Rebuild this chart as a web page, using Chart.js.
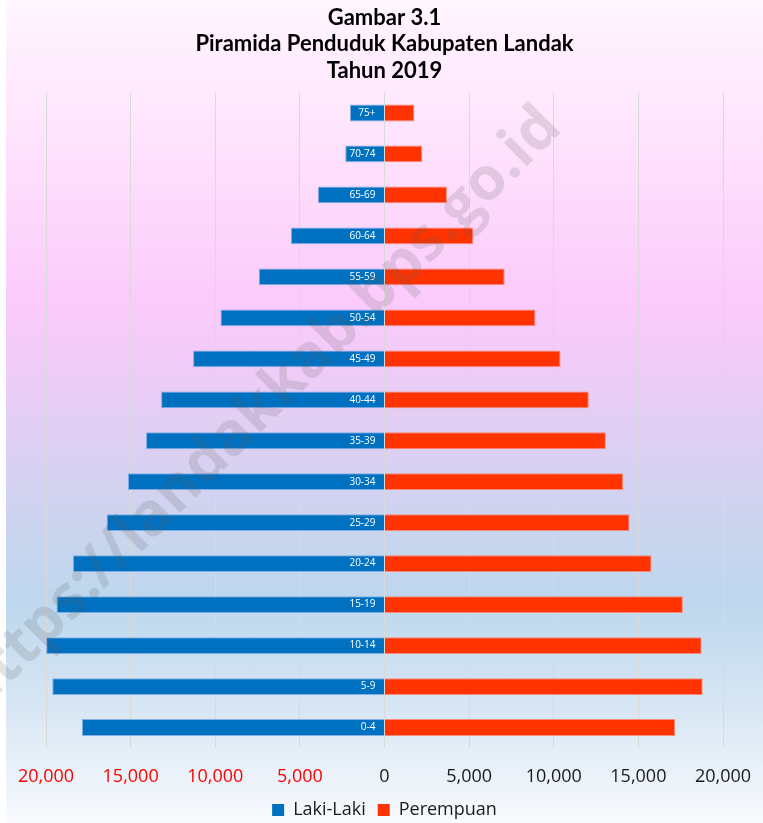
<!DOCTYPE html>
<html>
<head>
<meta charset="utf-8">
<script src="https://cdn.jsdelivr.net/npm/chart.js@4.4.1/dist/chart.umd.min.js"></script>
<style>
  html, body { margin: 0; padding: 0; background: #fff; }
  .wrap { position: relative; width: 763px; height: 823px; overflow: hidden; }
  .bg {
    position: absolute; left: 6px; top: 0; width: 757px; height: 823px;
    background: linear-gradient(to bottom,
      #fff6fe 0px, #ffeafd 90px, #fddafc 200px, #fbcbfb 300px, #f3cbf8 350px,
      #dcd0f2 450px, #c8d5ee 540px, #bdd7ed 600px, #d6e5f3 700px, #f8fafd 823px);
  }
  canvas { position: absolute; left: 0; top: 0; }
</style>
</head>
<body>
<div class="wrap">
  <div class="bg"></div>
  <canvas id="myChart" width="763" height="829"></canvas>
</div>
<script>
// kelompok umur, dari bawah (0-4) ke atas (75+)
const ageGroups = ["0-4", "5-9", "10-14", "15-19", "20-24", "25-29", "30-34", "35-39",
  "40-44", "45-49", "50-54", "55-59", "60-64", "65-69", "70-74", "75+"];
const male = [17880, 19630, 19990, 19380, 18410, 16420, 15160, 14090,
  13200, 11310, 9690, 7430, 5530, 3940, 2320, 2040];
const female = [17180, 18800, 18740, 17630, 15780, 14480, 14100, 13080,
  12070, 10400, 8920, 7100, 5250, 3690, 2230, 1760];
const xTicks = [-20000, -15000, -10000, -5000, 0, 5000, 10000, 15000, 20000];
const titleLines = ["Gambar 3.1", "Piramida Penduduk Kabupaten Landak", "Tahun 2019"];
const watermark = "https://landakkab.bps.go.id";

const $ = (el) => document.querySelector(el);

// label umur di dalam batang laki-laki + watermark
const pyramidExtras = {
  id: "pyramidExtras",
  afterDatasetsDraw(chart) {
    const { ctx, scales } = chart;
    const x0 = scales.x.getPixelForValue(0);
    ctx.save();
    ctx.fillStyle = "#ffffff";
    ctx.font = "10px 'Open Sans'";
    ctx.textAlign = "right";
    ctx.textBaseline = "middle";
    ageGroups.forEach((g, i) => {
      ctx.fillText(g, x0 - 9, scales.y.getPixelForValue(i));
    });
    ctx.restore();
  },
  afterDraw(chart) {
    const { ctx } = chart;
    ctx.save();
    ctx.translate(259, 410);
    ctx.rotate(-Math.PI / 4);
    ctx.fillStyle = "rgba(90, 90, 90, 0.17)";
    ctx.font = "bold 60px 'Open Sans'";
    ctx.textAlign = "center";
    ctx.textBaseline = "middle";
    ctx.fillText(watermark, 0, 0);
    ctx.restore();
  },
};

const myChart = new Chart($("#myChart"), {
  type: "bar",
  data: {
    labels: ageGroups,
    datasets: [
      {
        label: "Laki-Laki",
        data: male.map((v) => -v),
        backgroundColor: "#0070c0",
        borderColor: "rgba(120, 170, 230, 0.9)",
        borderWidth: 1,
      },
      {
        label: "Perempuan",
        data: female,
        backgroundColor: "#ff3300",
        borderColor: "rgba(255, 130, 110, 0.9)",
        borderWidth: 1,
      },
    ],
  },
  options: {
    indexAxis: "y",
    responsive: false,
    animation: false,
    barPercentage: 0.41,
    categoryPercentage: 1,
    layout: {
      padding: { left: 46, right: 40, top: 2, bottom: 0 },
    },
    scales: {
      x: {
        stacked: true,
        min: -20000,
        max: 20000,
        afterBuildTicks: (axis) => {
          axis.ticks = xTicks.map((v) => ({ value: v }));
        },
        afterFit: (axis) => {
          axis.paddingLeft = 0;
          axis.paddingRight = 0;
          axis.height = 41;
        },
        grid: { color: "#d9d9d9", lineWidth: 1, drawTicks: false },
        border: { display: false },
        ticks: {
          padding: 18,
          font: { family: "'Open Sans'", size: 18 },
          color: (c) => (c.tick && c.tick.value < 0 ? "#ff0000" : "#1a1a1a"),
          callback: (v) => Math.abs(v).toLocaleString("en-US"),
        },
      },
      y: {
        stacked: true,
        reverse: true,
        display: false,
      },
    },
    plugins: {
      title: {
        display: true,
        text: titleLines,
        color: "#000",
        font: { family: "Lato", size: 22, weight: "bold", lineHeight: 1.22 },
        padding: { top: 2, bottom: 8 },
      },
      legend: {
        position: "bottom",
        labels: {
          boxWidth: 12,
          boxHeight: 12,
          padding: 12,
          color: "#1a1a1a",
          font: { family: "'Open Sans'", size: 18 },
          generateLabels: (chart) =>
            Chart.defaults.plugins.legend.labels.generateLabels(chart).map((l) => ({ ...l, lineWidth: 0 })),
        },
      },
      tooltip: { enabled: false },
    },
  },
  plugins: [pyramidExtras],
});
</script>
</body>
</html>
